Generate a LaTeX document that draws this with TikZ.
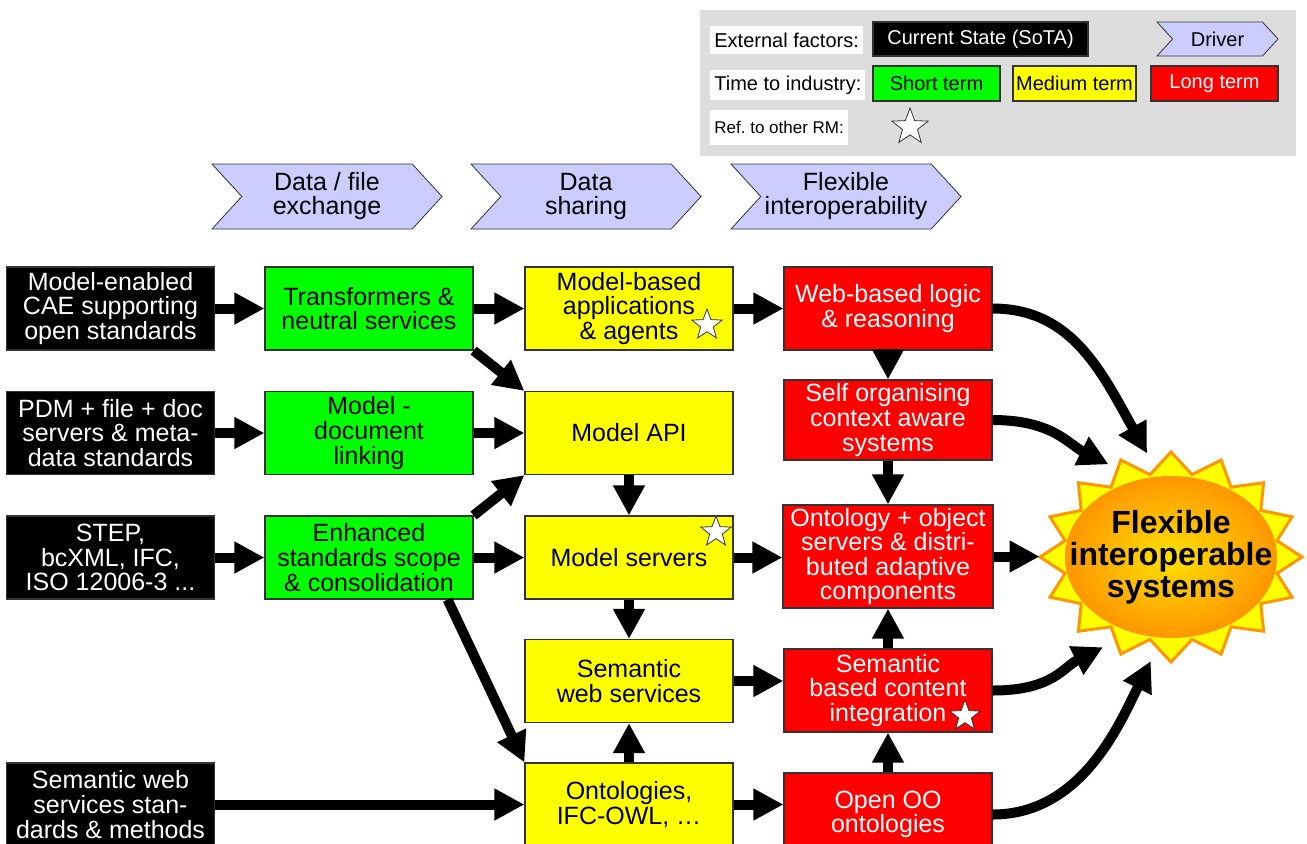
\documentclass[tikz,border=0pt]{standalone}
\usepackage{fontspec}
\setmainfont{Liberation Sans}
\usepackage{tikz}
\usetikzlibrary{arrows.meta, positioning, calc, shapes.geometric, shapes.symbols}
\definecolor{rmgreen}{RGB}{0, 255, 0}
\definecolor{rmyellow}{RGB}{255, 255, 0}
\definecolor{rmred}{RGB}{255, 0, 0}
\definecolor{rmdriver}{RGB}{204, 204, 255}
\definecolor{rmgray}{RGB}{221, 221, 221}
\definecolor{rmorange}{RGB}{255, 150, 0}
\definecolor{rmsun}{RGB}{255, 225, 0}
\newcommand{\keyfont}{\fontsize{10}{10}\selectfont}
\newcommand{\boxfont}{\fontsize{12.5}{12.3}\selectfont}

\begin{document}
\begin{tikzpicture}[x=0.5pt, y=-0.5pt,
  basebox/.style={draw=black!80, line width=0.6pt, minimum width=104pt,
    minimum height=41.5pt, inner sep=1pt, align=center, font=\boxfont},
  sotabox/.style={basebox, fill=black, text=white},
  shortbox/.style={basebox, fill=rmgreen},
  mediumbox/.style={basebox, fill=rmyellow},
  longbox/.style={basebox, fill=rmred, text=white},
  driverbox/.style={signal, signal from=west, signal to=east,
    signal pointer angle=95, draw=black!80, fill=rmdriver,
    minimum width=115pt, minimum height=32.5pt, inner sep=0pt,
    align=center, font=\fontsize{12.5}{12}\selectfont},
  keylabel/.style={fill=white, anchor=west, inner sep=2pt, font=\keyfont},
  refstar/.style={star, star points=5, star point ratio=2.4, draw=black!80,
    fill=white, minimum size=16pt, inner sep=0pt},
  fat/.style={line width=5pt, -{Triangle[length=15pt, width=15pt]}}]

  \clip (0,0) rectangle (1307,843);

  % --- legend ---
  \fill[rmgray] (700,10) rectangle (1296,156);
  \node[keylabel, minimum height=14pt] (keyext) at (710,40) {External factors:};
  \node[keylabel, minimum height=15pt] (keytime) at (710,85) {Time to industry:};
  \node[keylabel, minimum height=17.5pt, font=\fontsize{8.5}{8.5}\selectfont]
    (keyref) at (710,127.5) {Ref.\ to other RM:};
  \node[sotabox, minimum width=107.5pt, minimum height=17pt, font=\keyfont]
    (keysota) at (980.5,39) {Current State (SoTA)};
  \node[driverbox, minimum width=60.5pt, minimum height=17pt, font=\keyfont]
    (keydriver) at (1217.5,39) {Driver};
  \node[shortbox, minimum width=63.5pt, minimum height=17.5pt, font=\keyfont]
    (keyshort) at (936.5,83.5) {Short term};
  \node[mediumbox, minimum width=61.5pt, minimum height=17.5pt, font=\keyfont]
    (keymedium) at (1074.5,83.5) {Medium term};
  \node[longbox, minimum width=63.5pt, minimum height=17.5pt, font=\keyfont]
    (keylong) at (1214.5,83.5) {Long term};
  \node[refstar, minimum size=19pt] (keystar) at (910,127) {};

  % --- drivers ---
  \foreach \x/\name/\txt in {
    327/drvexch/{Data / file\\exchange},
    586/drvshare/{Data\\sharing},
    846/drvflex/{Flexible\\interoperability}}
  {
    \node[driverbox] (\name) at (\x,196.5) {\txt};
  }

  % --- external factors (SoTA) ---
  \node[sotabox] (caeopen) at (110.5,308.5) {Model-enabled\\CAE supporting\\open standards};
  \node[sotabox] (pdmserv) at (110.5,433) {PDM + file + doc\\servers \& meta-\\data standards};
  \node[sotabox] (stepifc) at (110.5,557.5) {STEP,\\bcXML, IFC,\\ISO 12006-3 ...};
  \node[sotabox] (swstd) at (110.5,804.5) {Semantic web\\services stan-\\dards \& methods};

  % --- short term ---
  \node[shortbox] (transform) at (369,308.5) {Transformers \&\\neutral services};
  \node[shortbox] (doclink) at (369,433) {Model -\\document\\linking};
  \node[shortbox] (stdscope) at (369,557.5) {Enhanced\\standards scope\\\& consolidation};

  % --- medium term ---
  \node[mediumbox] (modelapps) at (629,308.5) {Model-based\\applications\\\& agents};
  \node[mediumbox] (modelapi) at (629,433) {Model API};
  \node[mediumbox] (modelserv) at (629,557.5) {Model servers};
  \node[mediumbox] (semweb) at (629,681) {Semantic\\web services};
  \node[mediumbox] (ontowl) at (629,804.5) {Ontologies,\\IFC-OWL, …};

  % --- long term ---
  \node[longbox] (weblogic) at (888,308.5) {Web-based logic\\\& reasoning};
  \node[longbox, minimum height=40pt] (selforg) at (888,420)
    {Self organising\\context aware\\systems};
  \node[longbox, minimum width=105pt, minimum height=51.5pt] (ontoserv) at (888,556.5)
    {Ontology + object\\servers \& distri-\\buted adaptive\\components};
  \node[longbox] (semcont) at (888,690.5) {Semantic\\based content\\integration};
  \node[longbox] (openoo) at (888,814.5) {Open OO\\ontologies};

  % --- references to other roadmaps ---
  \node[refstar] (staragents) at (707,325) {};
  \node[refstar] (starserv) at (716,532) {};
  \node[refstar] (starcont) at (965,716) {};

  % --- target: spikes, body, text ---
  \filldraw[fill=rmyellow, draw=rmorange, line width=1.5pt, line join=miter]
    (1302,557) \foreach \a in {0,22.5,...,337.5} {
      -- ({1171+131*cos(\a)},{557+105*sin(\a)})
      -- ({1171+108*cos(\a+11.25)},{557+84*sin(\a+11.25)})
    } -- cycle;
  \shade[inner color=rmsun, outer color=rmorange] (1171,557) ellipse (53pt and 40.5pt);
  \node[ellipse, minimum width=131pt, minimum height=105pt, inner sep=0pt]
    (sun) at (1171,557) {};
  \node[align=center, inner sep=0pt, font=\bfseries\fontsize{16}{16}\selectfont]
    (suntext) at (sun.center) {Flexible\\interoperable\\systems};

  % --- connectors ---
  \draw[fat] (caeopen) -- (transform);
  \draw[fat] (transform) -- (modelapps);
  \draw[fat] (modelapps) -- (weblogic);
  \draw[fat] (transform.south east) -- (modelapi.north west);
  \draw[fat] (pdmserv) -- (doclink);
  \draw[fat] (doclink) -- (modelapi);
  \draw[fat] (stepifc) -- (stdscope);
  \draw[fat] (stdscope) -- (modelserv);
  \draw[fat] (stdscope.north east) -- (modelapi.south west);
  \draw[fat] ([xshift=-13pt]stdscope.south east) -- (ontowl.north west);
  \draw[fat] (swstd) -- (ontowl);
  \draw[fat] (modelapi) -- (modelserv);
  \draw[fat] (modelserv) -- (semweb);
  \draw[fat] (ontowl) -- (semweb);
  \draw[fat] (modelserv.east) -- (modelserv.east -| ontoserv.west);
  \draw[fat] (semweb.east) -- (semweb.east -| semcont.west);
  \draw[fat] (ontowl.east) -- (ontowl.east -| openoo.west);
  \draw[fat] (weblogic) -- (selforg);
  \draw[fat] (selforg) -- (ontoserv);
  \draw[fat] (semcont) -- (ontoserv);
  \draw[fat] (openoo) -- (semcont);
  \draw[fat] (ontoserv.east) -- (ontoserv.east -| sun.west);

  % --- curved arrows into the target ---
  \draw[fat] (weblogic.east) .. controls +(80,0) and +(-45,-80) .. (sun.103);
  \draw[fat] (selforg.east) .. controls +(60,0) and +(-40,-20) .. (sun.124);
  \draw[fat] (semcont.east) .. controls +(60,0) and +(-40,20) .. (sun.233);
  \draw[fat] (openoo.east) .. controls +(90,0) and +(-30,60) .. (sun.259);

\end{tikzpicture}
\end{document}
